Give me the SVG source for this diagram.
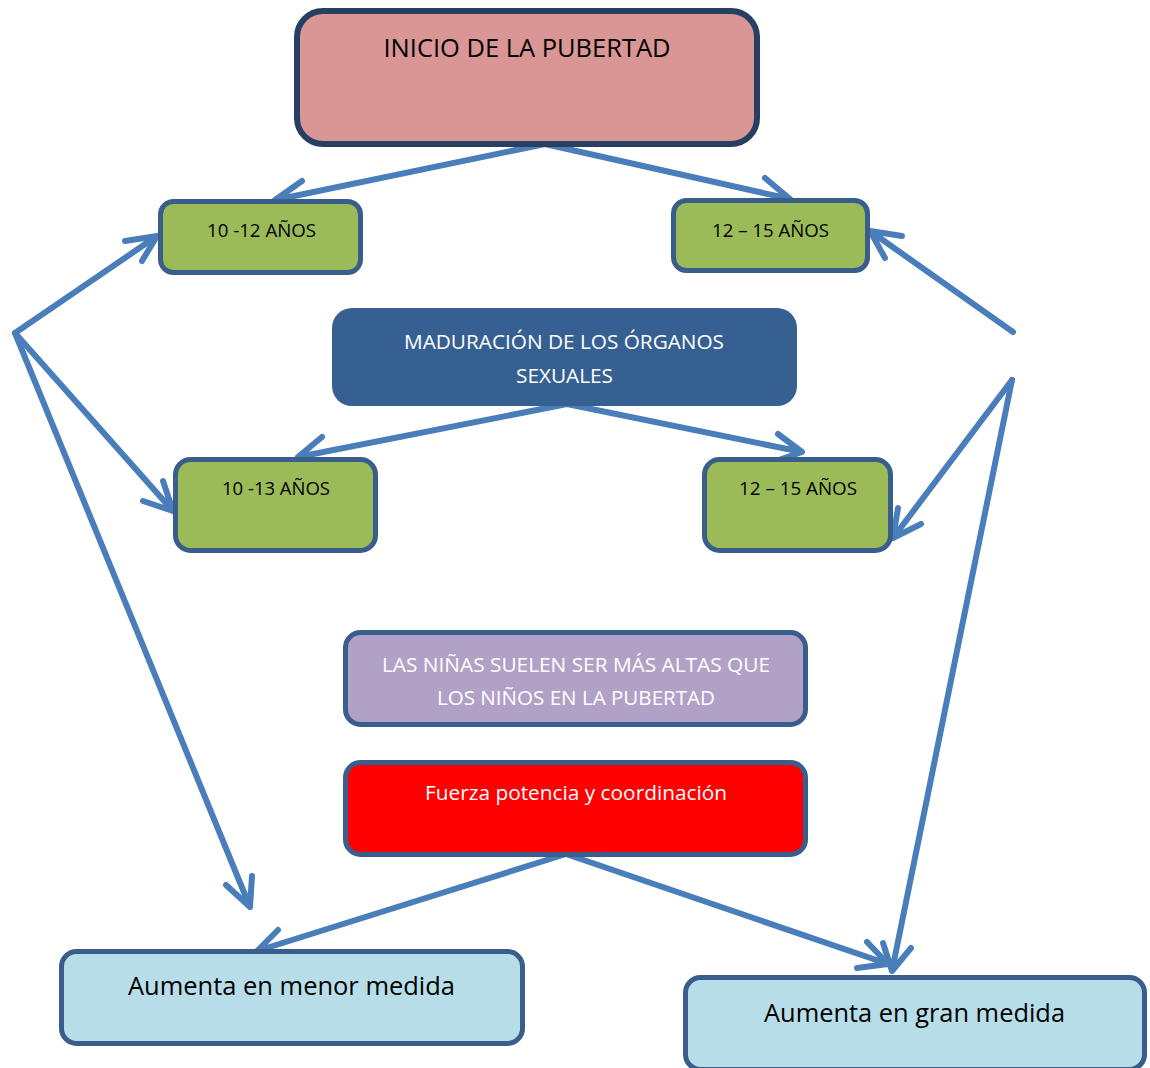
<svg xmlns="http://www.w3.org/2000/svg" width="1150" height="1068" viewBox="0 0 1150 1068">
  <style>
    .box { stroke: #3A5E8B; stroke-width: 5; }
    .lbl { font-family: "Open Sans", "Noto Sans", sans-serif; text-anchor: middle; }
    .dark { fill: #000000; }
    .light { fill: #FFFFFF; }
    .conn { fill: none; stroke: #4A7EBB; stroke-width: 6; stroke-linecap: round; stroke-linejoin: round; }
  </style>
  <rect width="1150" height="1068" fill="#FFFFFF"/>

  <!-- connectors -->
  <g id="connectors">
    <!-- from INICIO DE LA PUBERTAD -->
    <path class="conn" d="M545,144 L275,200 M302,181 L275,200 L306,207"/>
    <path class="conn" d="M545,144 L790,199 M765,178 L790,199 L759,205"/>
    <!-- left fan -->
    <path class="conn" d="M15,333 L157,236 M125,241 L157,236 L142,261"/>
    <path class="conn" d="M15,333 L173,511 M163,481 L173,511 L143,501"/>
    <path class="conn" d="M15,333 L250,907 M252,876 L250,907 L226,885"/>
    <!-- right fan, upper -->
    <path class="conn" d="M1013,332 L870,231 M902,236 L870,231 L885,258"/>
    <!-- right fan, lower -->
    <path class="conn" d="M1012,380 L893,538 M898,508 L893,538 L921,524"/>
    <path class="conn" d="M1012,380 L892,971 M883,943 L892,971 L911,948"/>
    <!-- from MADURACIÓN DE LOS ÓRGANOS SEXUALES -->
    <path class="conn" d="M567,404 L298,457 M322,437 L298,457 L328,465"/>
    <path class="conn" d="M567,404 L802,452 M778,434 L802,452 L773,462"/>
    <!-- from Fuerza potencia y coordinación -->
    <path class="conn" d="M566,854 L257,951 M278,930 L257,951 L286,957"/>
    <path class="conn" d="M566,854 L888,964 M867,942 L888,964 L857,968"/>
  </g>

  <g id="inicio">
    <rect x="297" y="11" width="460" height="133" rx="26" fill="#D99694" stroke="#263F63" stroke-width="6"/>
    <text class="lbl dark" x="527" y="57" font-size="26" textLength="287" lengthAdjust="spacingAndGlyphs">INICIO DE LA PUBERTAD</text>
  </g>

  <g id="edad-10-12">
    <rect class="box" x="160.5" y="201.5" width="200" height="71" rx="13" fill="#9BBB59"/>
    <text class="lbl dark" x="261.5" y="237" font-size="19" textLength="109" lengthAdjust="spacingAndGlyphs">10 -12 AÑOS</text>
  </g>

  <g id="edad-12-15-a">
    <rect class="box" x="673.5" y="200.5" width="194" height="70" rx="13" fill="#9BBB59"/>
    <text class="lbl dark" x="770.5" y="237" font-size="19" textLength="117" lengthAdjust="spacingAndGlyphs">12 – 15 AÑOS</text>
  </g>

  <g id="maduracion">
    <rect x="332" y="308" width="465" height="98" rx="20" fill="#366092"/>
    <text class="lbl light" x="564" y="349" font-size="20" textLength="320" lengthAdjust="spacingAndGlyphs">MADURACIÓN DE LOS ÓRGANOS</text>
    <text class="lbl light" x="564.5" y="383" font-size="20" textLength="97" lengthAdjust="spacingAndGlyphs">SEXUALES</text>
  </g>

  <g id="edad-10-13">
    <rect class="box" x="175.5" y="459.5" width="200" height="91" rx="15" fill="#9BBB59"/>
    <text class="lbl dark" x="276" y="495" font-size="19" textLength="108" lengthAdjust="spacingAndGlyphs">10 -13 AÑOS</text>
  </g>

  <g id="edad-12-15-b">
    <rect class="box" x="704.5" y="459.5" width="186" height="91" rx="15" fill="#9BBB59"/>
    <text class="lbl dark" x="798" y="495" font-size="19" textLength="118" lengthAdjust="spacingAndGlyphs">12 – 15 AÑOS</text>
  </g>

  <g id="ninas">
    <rect class="box" x="345.5" y="632.5" width="460" height="92" rx="15" fill="#B2A1C7"/>
    <text class="lbl light" x="576" y="672" font-size="20" textLength="388" lengthAdjust="spacingAndGlyphs">LAS NIÑAS SUELEN SER MÁS ALTAS QUE</text>
    <text class="lbl light" x="576" y="705" font-size="20" textLength="278" lengthAdjust="spacingAndGlyphs">LOS NIÑOS EN LA PUBERTAD</text>
  </g>

  <g id="fuerza">
    <rect class="box" x="345.5" y="762.5" width="460" height="92" rx="15" fill="#FF0000"/>
    <text class="lbl light" x="576" y="800" font-size="20" textLength="302" lengthAdjust="spacingAndGlyphs">Fuerza potencia y coordinación</text>
  </g>

  <g id="menor-medida">
    <rect class="box" x="61.5" y="951.5" width="461" height="92" rx="15" fill="#B7DEE8"/>
    <text class="lbl dark" x="291.5" y="995" font-size="25" textLength="327" lengthAdjust="spacingAndGlyphs">Aumenta en menor medida</text>
  </g>

  <g id="gran-medida">
    <rect class="box" x="685.5" y="977.5" width="459" height="92" rx="15" fill="#B7DEE8"/>
    <text class="lbl dark" x="914.5" y="1022" font-size="25" textLength="301" lengthAdjust="spacingAndGlyphs">Aumenta en gran medida</text>
  </g>
</svg>
